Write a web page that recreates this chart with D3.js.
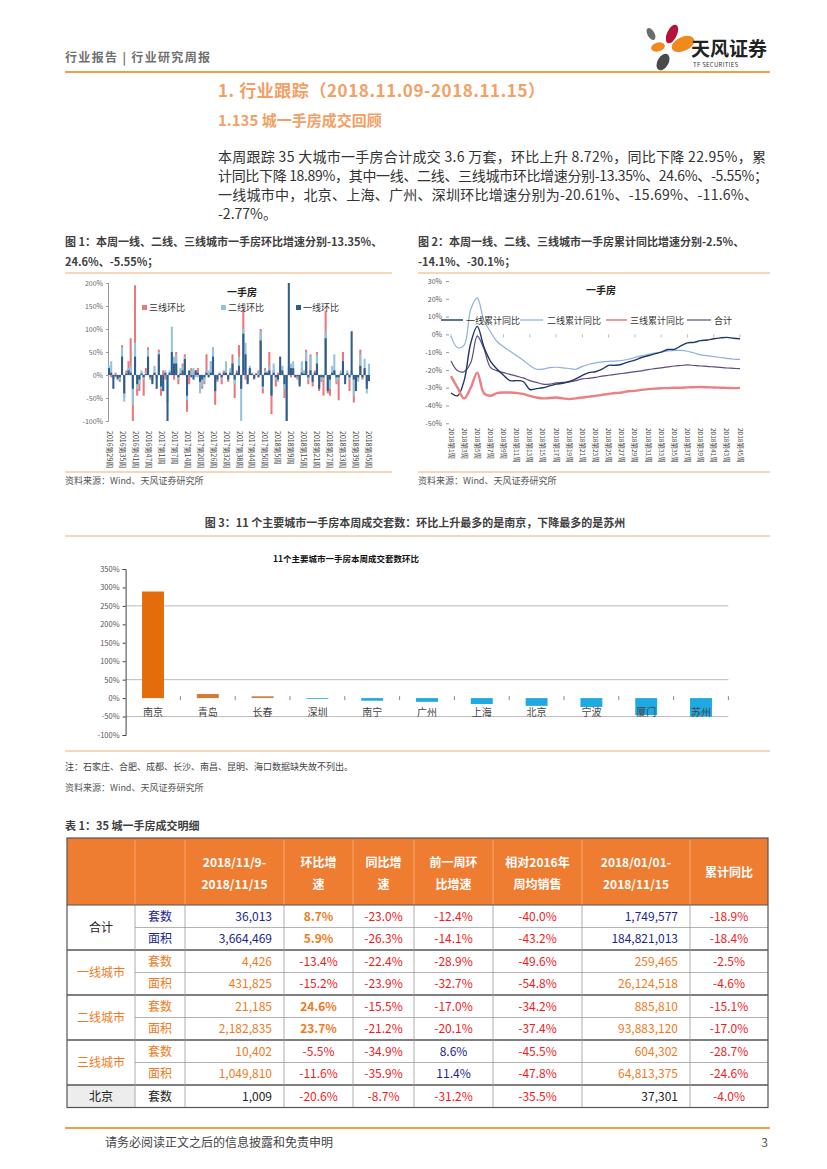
<!DOCTYPE html>
<html><head><meta charset="utf-8">
<script src="https://cdn.jsdelivr.net/npm/d3@7"></script>
<style>
body{margin:0;background:#fff}
svg{display:block}
text{font-family:"Noto Sans CJK SC","Noto Sans",sans-serif}
</style></head>
<body><svg id="page" width="827" height="1169"></svg>
<script>
// ---------- DATA ----------
// Figure 1: week-over-week change (%), 121 weeks from 2016第29周 to 2018第45周
const fig1TickLabels = ["2016第29周","2016第35周","2016第41周","2016第47周","2017第1周","2017第7周","2017第14周","2017第20周","2017第26周","2017第32周","2017第38周","2017第44周","2017第50周","2018第5周","2018第9周","2018第15周","2018第21周","2018第27周","2018第33周","2018第39周","2018第45周"];
const tier3Mom = [10,-5,-8,5,-10,-15,65,-50,10,30, 80,-100,195,-45,-35,5,-45,15,60,-10, -12,5,-8,55,-45,10,-10,-10,5,10, -10,50,-20,5,25,45,-80,-20,15,5, 10,15,-10,-30,-20,45,5,30,60,-65, -15,5,-20,10,10,-15,10,45,-50,10, 65,-20,140,-10,-15,10,5,-10,5,10, 100,-40,15,5,50,-85,10,-25,5,10, 5,-50,-10,10,-5,10,-5,-10,-15,15, 5,55,-20,45,-25,10,50,-35,-15,-45, 140,-40,-45,5,10,-20,-55,5,50,-10, 5,-35,5,-60,-10,-10,55,-10,10,-20, -5.55];
const tier2Mom = [20,30,-5,-5,-12,-10,60,-58,5,15, 20,-65,70,-30,-20,10,-10,5,55,-8, -15,20,-5,50,-30,-35,10,-60,10,105, 40,45,-10,15,20,40,-55,5,10,15, -5,-5,-40,-25,-15,10,10,30,60,-35, -10,5,-10,5,30,-10,15,25,-20,5, 40,-100,100,70,-10,20,3,-5,3,5, 95,-30,10,8,20,-45,25,-10,-15,20, 20,-30,-100,20,25,30,-3,-5,-20,30, 10,50,-10,40,-10,5,45,-25,-10,-10, 95,-30,-30,20,45,-15,-10,10,30,-5, 10,-10,10,-45,-15,-15,45,-5,35,-40, 24.6];
const tier1Mom = [15,5,-30,-3,-8,-5,40,-40,3,10, 5,-30,40,-20,-10,3,-5,2,40,-5, -20,5,-30,45,-25,-35,5,-100,5,50, 25,25,-5,3,10,35,-45,10,-5,-10, 10,5,-15,-10,-5,5,-5,5,40,-35, -10,3,-5,5,5,-10,5,25,-10,5, 20,-30,90,45,-20,15,2,-8,2,-5, 75,-25,5,5,10,-45,5,-5,-10,40, 10,-20,-100,200,15,15,-5,-3,-25,5, 3,30,-5,10,-15,5,25,-30,-5,-5, 80,-35,-10,5,10,-5,-5,3,30,-20, 3,-5,95,-10,-35,-5,20,-5,15,-30, -13.35];
const fig1YTicks = [-100,-50,0,50,100,150,200];
const fig1SeriesNames = ["三线环比","二线环比","一线环比"];

// Figure 2: cumulative YoY (%), 2018 weeks 1..45
const fig2Weeks = d3.range(1,46).map(w => "2018第" + w + "周");
const fig2Tier1 = [-33,-34.5,-26,-5,4.5,-7,-15,-19.5,-23,-26,-26,-26.5,-31,-30.5,-30,-29,-28,-27.5,-26.5,-25,-23,-21.5,-21,-19.6,-17.4,-17.4,-16.8,-15.5,-14.5,-13,-12,-11,-10,-8.5,-8.4,-6.5,-4.8,-4.5,-3.5,-3.2,-2.5,-2,-1.7,-2.2,-2.5];
const fig2Tier2 = [-1,-7.5,-6,14,20.5,8,1.5,-4,-7,-9.5,-12,-14.5,-17.5,-19.6,-19.5,-18.7,-18.5,-18.8,-19.2,-19.6,-18,-16.8,-16,-15.5,-15.2,-15,-14.7,-14,-13,-12,-11.3,-10.5,-10,-9.3,-9,-9,-9.5,-10.5,-11.5,-12,-12.5,-13,-13.5,-14,-14.1];
const fig2Tier3 = [-23.5,-30,-36,-30,-21.5,-33,-34.5,-33,-32.7,-32.7,-33,-33.5,-34.6,-35.5,-36,-35.8,-35.5,-36,-36.4,-36,-35.5,-35,-34.6,-34,-33.5,-33,-32.7,-32,-31.8,-31.2,-30.8,-30.5,-30.3,-30.2,-30,-30,-29.8,-29.7,-29.6,-29.7,-29.9,-30,-30.1,-30.2,-30.1];
const fig2Total = [-15,-20.5,-21,-16,-1,-8,-18.5,-20.5,-21.5,-22.5,-23.5,-24.5,-26,-27,-28,-28,-27.3,-27,-26.7,-26,-25,-24.7,-24.2,-23.5,-23,-22.5,-22,-21.5,-21,-20.5,-19.8,-19.3,-18.8,-18.3,-17.8,-17.5,-17.2,-17.5,-17.8,-18,-18.3,-18.6,-18.9,-19.1,-19.3];
const fig2YTicks = [30,20,10,0,-10,-20,-30,-40,-50];
const fig2YTickLabels = ["30%","20%","10%","0%","-10%","-20%","-30%","-40%","-50%"];
const fig2SeriesNames = ["一线累计同比","二线累计同比","三线累计同比","合计"];

// Figure 3: weekly MoM of 11 cities (%)
const fig3Cities = ["南京","青岛","长春","深圳","南宁","广州","上海","北京","宁波","厦门","苏州"];
const fig3Values = [289,11,5,-1,-7,-10,-16,-21,-24,-46,-50];
const fig3Colors = ["#E46C0A","#D27A33","#C4864F","#1EA9E1","#1EA9E1","#1EA9E1","#1EA9E1","#1EA9E1","#1EA9E1","#1EA9E1","#1EA9E1"];
const fig3YTicks = [350,300,250,200,150,100,50,0,-50,-100];
const fig3GridTicks = [250,50,-50];

// Table 1
const tableHeaders = [["",""],["",""],["2018/11/9-","2018/11/15"],["环比增","速"],["同比增","速"],["前一周环","比增速"],["相对2016年","周均销售"],["2018/01/01-","2018/11/15"],["累计同比"]];
const rowGroups = ["合计","一线城市","二线城市","三线城市","北京"];
const rowTypes = ["套数","面积","套数","面积","套数","面积","套数","面积","套数"];
const weekVolume = ["36,013","3,664,469","4,426","431,825","21,185","2,182,835","10,402","1,049,810","1,009"];
const momGrowth = ["8.7%","5.9%","-13.4%","-15.2%","24.6%","23.7%","-5.5%","-11.6%","-20.6%"];
const yoyGrowth = ["-23.0%","-26.3%","-22.4%","-23.9%","-15.5%","-21.2%","-34.9%","-35.9%","-8.7%"];
const prevMom = ["-12.4%","-14.1%","-28.9%","-32.7%","-17.0%","-20.1%","8.6%","11.4%","-31.2%"];
const vs2016 = ["-40.0%","-43.2%","-49.6%","-54.8%","-34.2%","-37.4%","-45.5%","-47.8%","-35.5%"];
const ytdVolume = ["1,749,577","184,821,013","259,465","26,124,518","885,810","93,883,120","604,302","64,813,375","37,301"];
const ytdYoy = ["-18.9%","-18.4%","-2.5%","-4.6%","-15.1%","-17.0%","-28.7%","-24.6%","-4.0%"];

// ---------- PAGE ----------
const svg = d3.select("#page");
const ORANGE = "#F0A040", LIGHTOR = "#F6C9A0";

// header
svg.append("text").attr("x",65).attr("y",62).attr("font-size",12).attr("font-weight",700).attr("fill","#707070").attr("textLength",145).attr("lengthAdjust","spacing").text("行业报告 | 行业研究周报");
// logo
const logo = svg.append("g");
logo.append("ellipse").attr("cx",672).attr("cy",34).attr("rx",5).attr("ry",10).attr("fill","#B5123A").attr("transform","rotate(25,672,34)");
logo.append("ellipse").attr("cx",683).attr("cy",44).attr("rx",7).attr("ry",12).attr("fill","#F08A1C").attr("transform","rotate(65,683,44)");
logo.append("ellipse").attr("cx",658).attr("cy",47).attr("rx",7).attr("ry",4.5).attr("fill","#F08A1C").attr("transform","rotate(-15,658,47)");
logo.append("ellipse").attr("cx",651).attr("cy",34).attr("rx",3.5).attr("ry",6.5).attr("fill","#6B6B6B").attr("transform","rotate(-30,651,34)");
logo.append("ellipse").attr("cx",663).attr("cy",62).attr("rx",5.5).attr("ry",9).attr("fill","#4A4A4A").attr("transform","rotate(30,663,62)");
logo.append("text").attr("x",691).attr("y",56).attr("font-size",19).attr("font-weight",700).attr("fill","#222").text("天风证券");
logo.append("text").attr("x",693).attr("y",67).attr("font-size",6).attr("fill","#333").attr("letter-spacing",0.3).text("TF SECURITIES");
svg.append("line").attr("x1",65).attr("x2",770).attr("y1",72).attr("y2",72).attr("stroke",ORANGE).attr("stroke-width",2);

// headings
svg.append("text").attr("x",218).attr("y",97).attr("font-size",17).attr("font-weight",700).attr("fill","#F2A066").attr("textLength",327).attr("lengthAdjust","spacing").text("1. 行业跟踪（2018.11.09-2018.11.15）");
svg.append("text").attr("x",218).attr("y",126).attr("font-size",15).attr("font-weight",700).attr("fill","#F2A066").text("1.135 城一手房成交回顾");
const para = [
 ["本周跟踪 35 大城市一手房合计成交 3.6 万套，环比上升 8.72%，同比下降 22.95%，累",548],
 ["计同比下降 18.89%，其中一线、二线、三线城市环比增速分别-13.35%、24.6%、-5.55%；",550],
 ["一线城市中，北京、上海、广州、深圳环比增速分别为-20.61%、-15.69%、-11.6%、",540],
 ["-2.77%。",0]];
para.forEach((p,i)=>{
  const t = svg.append("text").attr("x",218).attr("y",162+i*19).attr("font-size",14).attr("fill","#333").text(p[0]);
  if(p[1]) t.attr("textLength",p[1]).attr("lengthAdjust","spacing");
});

// figure titles
function figTitle(x,y,lines){ lines.forEach((l,i)=>svg.append("text").attr("x",x).attr("y",y+i*20).attr("font-size",11).attr("font-weight",700).attr("fill","#404040").text(l)); }
figTitle(65,246,["图 1：本周一线、二线、三线城市一手房环比增速分别-13.35%、","24.6%、-5.55%；"]);
figTitle(418,246,["图 2：本周一线、二线、三线城市一手房累计同比增速分别-2.5%、","-14.1%、-30.1%；"]);
[[65,392],[418,770]].forEach(([a,b])=>{
  svg.append("line").attr("x1",a).attr("x2",b).attr("y1",273).attr("y2",273).attr("stroke",LIGHTOR).attr("stroke-width",1.5);
  svg.append("line").attr("x1",a).attr("x2",b).attr("y1",472).attr("y2",472).attr("stroke",LIGHTOR).attr("stroke-width",1.5);
  svg.append("text").attr("x",a).attr("y",484).attr("font-size",9).attr("fill","#555").text("资料来源：Wind、天风证券研究所");
});

// ---------- FIGURE 1 ----------
{
  const g = svg.append("g");
  const x = d3.scaleBand().domain(d3.range(tier1Mom.length)).range([108,370]).paddingInner(0.05);
  const y = d3.scaleLinear().domain([-100,200]).range([421,283]).clamp(true);
  const ax = g.append("g").attr("transform","translate(108,0)").call(d3.axisLeft(y).tickValues(fig1YTicks).tickFormat(d=>d+"%").tickSize(2).tickPadding(3));
  ax.selectAll("text").attr("font-size",7).attr("fill","#666");
  ax.selectAll("line,path").attr("stroke","#999");
  g.append("line").attr("x1",108).attr("x2",370).attr("y1",y(0)).attr("y2",y(0)).attr("stroke","#bbb").attr("stroke-width",0.6);
  const series = [[tier3Mom,"#E8787C"],[tier2Mom,"#92C5DD"],[tier1Mom,"#2F5D8C"]];
  series.forEach(([vals,col])=>{
    g.append("g").selectAll("rect").data(vals).join("rect")
      .attr("x",(d,i)=>x(i)).attr("width",x.bandwidth())
      .attr("y",d=>Math.min(y(d),y(0))).attr("height",d=>Math.abs(y(d)-y(0)))
      .attr("fill",col);
  });
  fig1TickLabels.forEach((lab,k)=>{
    const cx = x(k*6)+x.bandwidth()/2;
    g.append("text").attr("transform",`translate(${cx-2.5},431) rotate(90)`).attr("font-size",7).attr("fill","#444").text(lab);
  });
  g.append("text").attr("x",242).attr("y",296).attr("text-anchor","middle").attr("font-size",10).attr("font-weight",700).attr("fill","#222").text("一手房");
  const legX = [142,221,296];
  const legC = ["#E8787C","#92C5DD","#2F5D8C"];
  fig1SeriesNames.forEach((n,i)=>{
    g.append("rect").attr("x",legX[i]).attr("y",305).attr("width",5).attr("height",5).attr("fill",legC[i]);
    g.append("text").attr("x",legX[i]+7).attr("y",311).attr("font-size",9).attr("fill","#333").text(n);
  });
}

// ---------- FIGURE 2 ----------
{
  const g = svg.append("g");
  const x = d3.scalePoint().domain(fig2Weeks).range([451,740]);
  const y = d3.scaleLinear().domain([-50,30]).range([423.3,281]);
  const ax = g.append("g").attr("transform","translate(449,0)").call(d3.axisLeft(y).tickValues(fig2YTicks).tickFormat((d,i)=>fig2YTickLabels[i]).tickSize(3).tickPadding(4));
  ax.select("path").remove();
  ax.selectAll("text").attr("font-size",7).attr("fill","#555");
  ax.selectAll("line").attr("stroke","#999");
  fig2Weeks.forEach((w,i)=>{ if(i%4===0) g.append("line").attr("x1",x(w)).attr("x2",x(w)).attr("y1",y(0)).attr("y2",y(0)+3).attr("stroke","#999").attr("stroke-width",0.7); });
  fig2Weeks.forEach((w,i)=>{
    if(i%2===0) g.append("text").attr("transform",`translate(${x(w)-2.5},428) rotate(90)`).attr("font-size",6.5).attr("fill","#444").text(w);
  });
  const line = d3.line().x((d,i)=>x(fig2Weeks[i])).y(d=>y(d)).curve(d3.curveCatmullRom.alpha(0.5));
  const lines = [[fig2Tier2,"#8DB1DA",1.2],[fig2Total,"#5E4A85",1.2],[fig2Tier1,"#1F3864",1.4],[fig2Tier3,"#EE7E80",2.4]];
  lines.forEach(([vals,col,w])=>g.append("path").attr("d",line(vals)).attr("fill","none").attr("stroke",col).attr("stroke-width",w));
  g.append("text").attr("x",601).attr("y",294).attr("text-anchor","middle").attr("font-size",10).attr("font-weight",700).attr("fill","#222").text("一手房");
  const leg = [[441,463,466,"#1F3864",1.4],[520,543,547,"#8DB1DA",1.2],[606,627,630,"#EE7E80",1.6],[687,711,714,"#5E4A85",1.2]];
  fig2SeriesNames.forEach((n,i)=>{
    const [a,b,tx,c,w] = leg[i];
    g.append("line").attr("x1",a).attr("x2",b).attr("y1",320).attr("y2",320).attr("stroke",c).attr("stroke-width",w);
    g.append("text").attr("x",tx).attr("y",323.5).attr("font-size",9).attr("fill","#333").text(n);
  });
}

// ---------- FIGURE 3 ----------
svg.append("text").attr("x",415).attr("y",527).attr("text-anchor","middle").attr("font-size",11).attr("font-weight",700).attr("fill","#404040").text("图 3：11 个主要城市一手房本周成交套数：环比上升最多的是南京，下降最多的是苏州");
svg.append("line").attr("x1",65).attr("x2",770).attr("y1",536).attr("y2",536).attr("stroke",LIGHTOR).attr("stroke-width",1.5);
{
  const g = svg.append("g");
  const x = d3.scaleBand().domain(fig3Cities).range([125.6,728.4]).paddingInner(0.6).paddingOuter(0.3);
  const y = d3.scaleLinear().domain([-100,350]).range([735,569]);
  fig3GridTicks.forEach(t=>g.append("line").attr("x1",125.6).attr("x2",728.4).attr("y1",y(t)).attr("y2",y(t)).attr("stroke","#BBBBBB").attr("stroke-width",1));
  const ax = g.append("g").attr("transform","translate(125.6,0)").call(d3.axisLeft(y).tickValues(fig3YTicks).tickFormat(d=>d+"%").tickSize(3).tickPadding(3));
  ax.selectAll("text").attr("font-size",7.5).attr("fill","#555");
  ax.selectAll("line,path").attr("stroke","#444");
  g.append("text").attr("x",346).attr("y",562).attr("text-anchor","middle").attr("font-size",8.5).attr("font-weight",700).attr("fill","#111").text("11个主要城市一手房本周成交套数环比");
  g.selectAll("rect.bar").data(fig3Values).join("rect").attr("class","bar")
    .attr("x",(d,i)=>x(fig3Cities[i])).attr("width",x.bandwidth())
    .attr("y",d=>Math.min(y(d),y(0))).attr("height",d=>Math.max(0.8,Math.abs(y(d)-y(0))))
    .attr("fill",(d,i)=>fig3Colors[i]);
  const step = x.step();
  for(let k=1;k<=fig3Cities.length;k++){
    const bx = 125.6 + k*step;
    g.append("line").attr("x1",bx).attr("x2",bx).attr("y1",y(0)-2).attr("y2",y(0)+2).attr("stroke","#888");
  }
  fig3Cities.forEach(c=>g.append("text").attr("x",x(c)+x.bandwidth()/2).attr("y",716).attr("text-anchor","middle").attr("font-size",10).attr("fill","#444").text(c));
}
svg.append("line").attr("x1",65).attr("x2",770).attr("y1",751).attr("y2",751).attr("stroke",LIGHTOR).attr("stroke-width",1.5);
svg.append("text").attr("x",65).attr("y",770).attr("font-size",9).attr("fill","#444").text("注：石家庄、合肥、成都、长沙、南昌、昆明、海口数据缺失故不列出。");
svg.append("text").attr("x",65).attr("y",791).attr("font-size",9).attr("fill","#555").text("资料来源：Wind、天风证券研究所");

// ---------- TABLE ----------
svg.append("text").attr("x",65).attr("y",830).attr("font-size",11).attr("font-weight",700).attr("fill","#404040").text("表 1：35 城一手房成交明细");
{
  const g = svg.append("g");
  const cols = [67,135,185,284,353,414,493,582,690,768];
  const top = 838, headH = 67, rowH = 22.5;
  const NAVY = "#1C2490", OR = "#F07A22", RED = "#EE1C25", BLK = "#222";
  g.append("rect").attr("x",67).attr("y",top).attr("width",701).attr("height",headH).attr("fill","#EE7D31");
  for(let c=1;c<cols.length-1;c++) g.append("line").attr("x1",cols[c]).attr("x2",cols[c]).attr("y1",top+2).attr("y2",top+headH).attr("stroke","#F6B183").attr("stroke-width",0.8);
  tableHeaders.forEach((h,c)=>{
    const cx = (cols[c]+cols[c+1])/2;
    if(h.length===2){
      h.forEach((l,k)=>g.append("text").attr("x",cx).attr("y",top+headH/2-5+k*22).attr("text-anchor","middle").attr("font-size",12).attr("font-weight",700).attr("fill","#fff").text(l));
    } else {
      g.append("text").attr("x",cx).attr("y",top+headH/2+5).attr("text-anchor","middle").attr("font-size",12).attr("font-weight",700).attr("fill","#fff").text(h[0]);
    }
  });
  const bodyTop = top+headH;
  const groupColor = g => g==="合计"?NAVY:(g==="北京"?BLK:OR);
  const labelColor = g => (g==="合计"||g==="北京")?BLK:OR;
  g.append("rect").attr("x",67).attr("y",bodyTop+8*rowH).attr("width",cols[1]-67).attr("height",rowH).attr("fill","#EDEDED");
  const colsData = [weekVolume,momGrowth,yoyGrowth,prevMom,vs2016,ytdVolume,ytdYoy];
  rowTypes.forEach((t,r)=>{
    const grp = rowGroups[Math.min(Math.floor(r/2),4)];
    const yc = bodyTop + r*rowH + rowH/2 + 4.5;
    g.append("text").attr("x",(cols[1]+cols[2])/2).attr("y",yc).attr("text-anchor","middle").attr("font-size",12).attr("fill",groupColor(grp)).text(t);
    colsData.forEach((arr,k)=>{
      const c = k+2;
      const v = arr[r];
      const isNum = (k===0||k===5);
      let fill, weight = 400;
      if(isNum) fill = groupColor(grp);
      else if(v.startsWith("-")) fill = RED;
      else if(k===1){ fill = OR; weight = 700; }
      else fill = NAVY;
      const tx = g.append("text").attr("y",yc).attr("font-size",12).attr("font-weight",weight).attr("fill",fill).text(v);
      if(isNum) tx.attr("x",cols[c+1]-12).attr("text-anchor","end");
      else tx.attr("x",(cols[c]+cols[c+1])/2).attr("text-anchor","middle");
    });
  });
  rowGroups.forEach((grp,i)=>{
    const span = grp==="北京"?1:2;
    const yc = bodyTop + i*2*rowH + span*rowH/2 + 4.5;
    g.append("text").attr("x",(cols[0]+cols[1])/2).attr("y",yc).attr("text-anchor","middle").attr("font-size",12).attr("fill",labelColor(grp)).text(grp);
  });
  for(let r=1;r<9;r++){
    const yy = bodyTop + r*rowH;
    const major = r%2===0;
    g.append("line").attr("x1",major?67:cols[1]).attr("x2",768).attr("y1",yy).attr("y2",yy).attr("stroke",major?"#555":"#A0A0A0").attr("stroke-width",major?1.4:0.8);
  }
  for(let c=1;c<cols.length-1;c++) g.append("line").attr("x1",cols[c]).attr("x2",cols[c]).attr("y1",bodyTop).attr("y2",bodyTop+9*rowH).attr("stroke","#9A9A9A").attr("stroke-width",0.8);
  g.append("line").attr("x1",67).attr("x2",768).attr("y1",bodyTop).attr("y2",bodyTop).attr("stroke","#555").attr("stroke-width",1);
  g.append("rect").attr("x",67).attr("y",top).attr("width",701).attr("height",headH+9*rowH).attr("fill","none").attr("stroke","#555").attr("stroke-width",1.2);
}

// footer
svg.append("line").attr("x1",65).attr("x2",770).attr("y1",1128).attr("y2",1128).attr("stroke",ORANGE).attr("stroke-width",2);
svg.append("text").attr("x",105).attr("y",1147).attr("font-size",12).attr("fill","#444").text("请务必阅读正文之后的信息披露和免责申明");
svg.append("text").attr("x",768).attr("y",1147).attr("text-anchor","end").attr("font-size",12).attr("fill","#555").text("3");
</script>
</body></html>
